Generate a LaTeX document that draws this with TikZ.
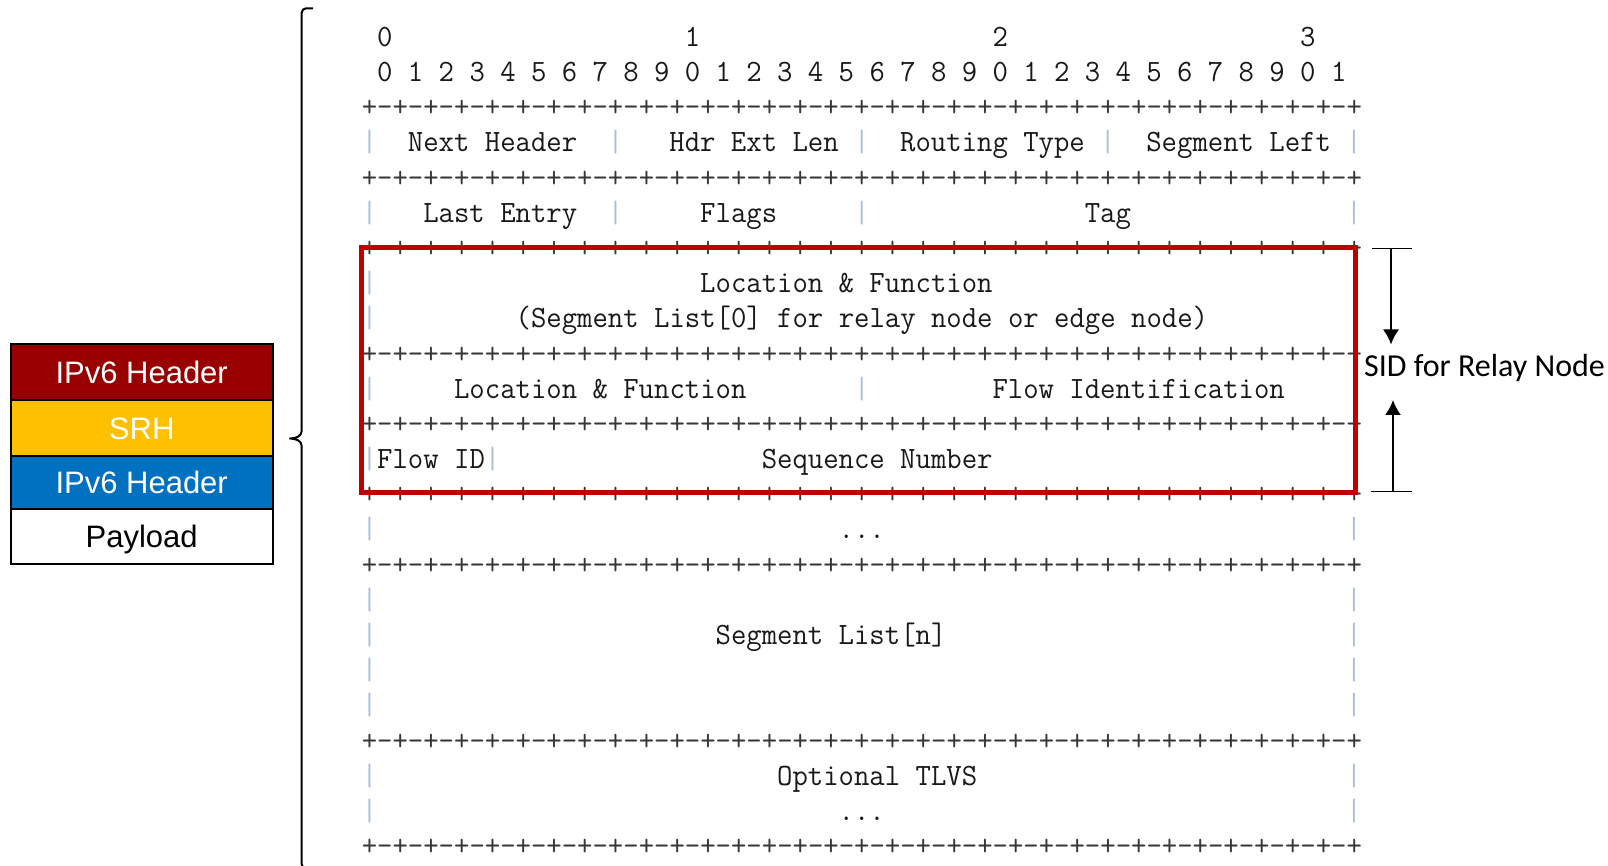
\documentclass[tikz,border=0pt]{standalone}
\usepackage{fontspec}
\newfontfamily\arialf{Liberation Sans}
\newfontfamily\calibrif{Carlito}
\usetikzlibrary{arrows.meta}
\definecolor{hdrred}{RGB}{153,0,0}
\definecolor{srhgold}{RGB}{255,192,0}
\definecolor{hdrblue}{RGB}{0,112,192}
\definecolor{boxred}{RGB}{192,0,0}
\definecolor{barcol}{RGB}{170,192,214}
\definecolor{sepcol}{RGB}{55,55,55}
\definecolor{txtcol}{RGB}{25,25,25}
\newcommand\gridfont{\fontsize{15.5}{15.5}\selectfont\ttfamily}
\newcommand\sq[1]{\scalebox{0.9638}[1]{#1}}
\newcommand\gx[1]{361.8+15.383*(#1)}
\newcommand\gy[1]{46.4+35.18*(#1)}
\def\sepfour{+-+-+-+-}
\newcommand\sepstr{\sepfour\sepfour\sepfour\sepfour\sepfour\sepfour\sepfour\sepfour+}
\tikzset{
  gridtxt/.style={anchor=base west, inner sep=0pt, outer sep=0pt, font=\gridfont, text=txtcol},
  gridbar/.style={gridtxt, text=barcol},
  gridsep/.style={gridtxt, text=sepcol},
  layer/.style={draw=black, line width=1pt, minimum width=131pt, inner sep=0pt,
    font=\arialf\fontsize{15.5}{15.5}\selectfont, text=white, text height=11.1pt, text depth=0pt},
  redbox/.style={draw=boxred, line width=2.5pt},
  bracepath/.style={line width=1pt, line join=round},
  annarrow/.style={line width=0.85pt, -{Latex[length=7.5pt,width=8pt]}},
  annticks/.style={line width=0.6pt},
  sidlabel/.style={font=\calibrif\fontsize{16}{16}\selectfont, inner sep=0pt}
}
\begin{document}
\begin{tikzpicture}[x=0.5pt, y=-0.5pt]
\useasboundingbox (0,0) rectangle (1608,866);
\fill[white] (0,0) rectangle (1608,866);
\clip (0,0) rectangle (1608,866);

% ---------- packet stack on the left ----------
\node[layer, fill=hdrred, minimum height=28pt] (ipv6a) at (141.7,372) {IPv6 Header};
\node[layer, fill=srhgold, minimum height=28pt] (srh) at (141.7,428) {SRH};
\node[layer, fill=hdrblue, minimum height=26.65pt] (ipv6b) at (141.7,482.7) {IPv6 Header};
\node[layer, fill=white, text=black, minimum height=27.5pt] (payload) at (141.7,536.8) {Payload};

% ---------- brace ----------
\draw[bracepath] (313,8.3) -- (306,8.3) to[out=180,in=90] (301.7,13)
  -- (301.7,431) to[out=270,in=0] (290,438.5) to[out=0,in=90] (301.7,446)
  -- (301.7,864) to[out=270,in=180] (306,868.7) -- (313,868.7);

% ---------- bit numbers ----------
\node[gridtxt] (t0a) at ({\gx{1}},{\gy{0}}) {\sq{0}};
\node[gridtxt] (t0b) at ({\gx{21}},{\gy{0}}) {\sq{1}};
\node[gridtxt] (t0c) at ({\gx{41}},{\gy{0}}) {\sq{2}};
\node[gridtxt] (t0d) at ({\gx{61}},{\gy{0}}) {\sq{3}};
\node[gridtxt] (bits) at ({\gx{1}},{\gy{1}}) {\sq{0 1 2 3 4 5 6 7 8 9 0 1 2 3 4 5 6 7 8 9 0 1 2 3 4 5 6 7 8 9 0 1}};

% ---------- separators ----------
\foreach \l in {2,4,6,9,11,13,15,20,23}
  \node[gridsep] (sep\l) at ({\gx{0}},{\gy{\l}}) {\sq{\sepstr}};

% ---------- vertical bars ----------
\foreach \c/\l [count=\i] in {0/3,16/3,32/3,48/3,64/3, 0/5,16/5,32/5,64/5,
   0/7,64/7,0/8,64/8, 0/10,32/10,64/10, 0/12,8/12,64/12, 0/14,64/14,
   0/16,64/16,0/17,64/17,0/18,64/18,0/19,64/19, 0/21,64/21,0/22,64/22}
  \node[gridbar] (bar\i) at ({\gx{\c}},{\gy{\l}}) {\sq{|}};

% ---------- field texts ----------
\node[gridtxt] (nexthdr) at ({\gx{3}},{\gy{3}}) {\sq{Next Header}};
\node[gridtxt] (hdrlen) at ({\gx{20}},{\gy{3}}) {\sq{Hdr Ext Len}};
\node[gridtxt] (rtype) at ({\gx{35}},{\gy{3}}) {\sq{Routing Type}};
\node[gridtxt] (segleft) at ({\gx{51}},{\gy{3}}) {\sq{Segment Left}};
\node[gridtxt] (lastentry) at ({\gx{4}},{\gy{5}}) {\sq{Last Entry}};
\node[gridtxt] (flags) at ({\gx{22}},{\gy{5}}) {\sq{Flags}};
\node[gridtxt] (tag) at ({\gx{47}},{\gy{5}}) {\sq{Tag}};
\node[gridtxt] (locfun1) at ({\gx{22}},{\gy{7}}) {\sq{Location \& Function}};
\node[gridtxt] (seglist0) at ({\gx{10}},{\gy{8}}) {\sq{(Segment List[0] for relay node or edge node)}};
\node[gridtxt] (locfun2) at ({\gx{6}},{\gy{10}}) {\sq{Location \& Function}};
\node[gridtxt] (flowident) at ({\gx{41}},{\gy{10}}) {\sq{Flow Identification}};
\node[gridtxt] (flowid) at ({\gx{1}},{\gy{12}}) {\sq{Flow ID}};
\node[gridtxt] (seqnum) at ({\gx{26}},{\gy{12}}) {\sq{Sequence Number}};
\node[gridtxt] (dots1) at ({\gx{31}},{\gy{14}}) {\sq{...}};
\node[gridtxt] (seglistn) at ({\gx{23}},{\gy{17}}) {\sq{Segment List[n]}};
\node[gridtxt] (tlvs) at ({\gx{27}},{\gy{21}}) {\sq{Optional TLVS}};
\node[gridtxt] (dots2) at ({\gx{31}},{\gy{22}}) {\sq{...}};

% ---------- red box ----------
\coordinate (rbTL) at (361,248);
\coordinate (rbBR) at (1355,492.5);
\draw[redbox] (rbTL) rectangle (rbBR);

% ---------- SID annotation ----------
\coordinate (tickTopL) at (1372,248.3);
\coordinate (tickTopR) at (1412,248.3);
\coordinate (tickBotL) at (1371,491.7);
\coordinate (tickBotR) at (1412,491.7);
\coordinate (arrTopS) at (1391,248.3);
\coordinate (arrTopE) at (1391,344.5);
\coordinate (arrBotS) at (1393,491.7);
\coordinate (arrBotE) at (1393,400);
\draw[annticks] (tickTopL) -- (tickTopR);
\draw[annticks] (tickBotL) -- (tickBotR);
\draw[annarrow] (arrTopS) -- (arrTopE);
\draw[annarrow] (arrBotS) -- (arrBotE);
\node[sidlabel] (sid) at (1484.5,368) {SID for Relay Node};
\end{tikzpicture}
\end{document}
